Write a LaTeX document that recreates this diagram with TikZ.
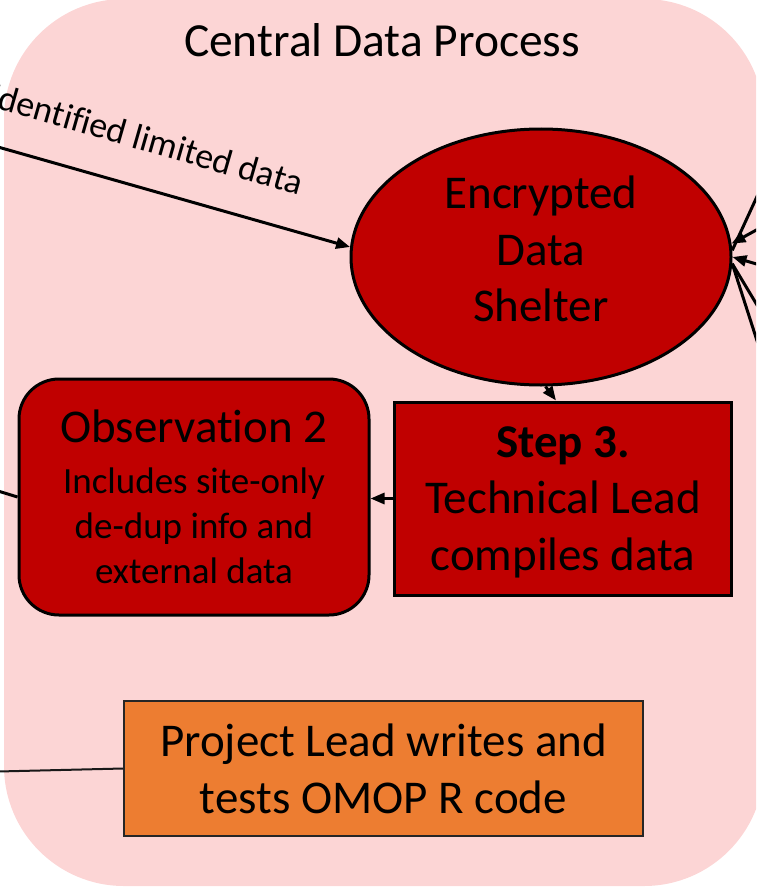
\documentclass[tikz,border=0pt]{standalone}
\usepackage{fontspec}
\setmainfont{Carlito}[Ligatures={NoCommon}]
\usetikzlibrary{shapes.geometric,arrows.meta,calc}
\definecolor{bgpink}{HTML}{FCD5D5}
\definecolor{boxred}{HTML}{C00000}
\definecolor{boxorange}{HTML}{ED7D31}
\newcommand{\nl}{\kern0pt }
\begin{document}
\begin{tikzpicture}[x=1pt,y=-1pt,
  bigfont/.style={font=\fontsize{47}{56.5}\selectfont},
  redell/.style={ellipse,draw=black,line width=3pt,fill=boxred,minimum width=380pt,minimum height=256pt,inner sep=0pt},
  stepbox/.style={rectangle,draw=black,line width=3pt,fill=boxred,minimum width=337pt,minimum height=193pt,inner sep=0pt},
  obsbox/.style={rectangle,rounded corners=40pt,draw=black,line width=3pt,fill=boxred,minimum width=350pt,minimum height=236pt,inner sep=0pt,align=center,font=\fontsize{37}{45}\selectfont},
  orangebox/.style={rectangle,draw=black!85,line width=2pt,fill=boxorange,minimum width=519pt,minimum height=135pt,inner sep=0pt,align=center,font=\fontsize{47}{57}\selectfont},
  arr/.style={draw=black,line width=3pt,-{Triangle[length=14pt,width=11pt]}},
  plainline/.style={draw=black,line width=3pt},
  thinline/.style={draw=black!90,line width=2pt},
  lbl/.style={font=\fontsize{36}{40}\selectfont,inner sep=0pt}
]
\useasboundingbox (0,0) rectangle (756,888);
\clip (0,0) rectangle (756,888);
\fill[bgpink, rounded corners=120pt] (4,-1) rectangle (764,886);

\node (title) at (382,40) [font=\fontsize{47.5}{56}\selectfont,inner sep=0pt] {Central Data Process};

\node[redell] (ell) at (541,257) {};
\node[bigfont,align=center,inner sep=0pt] (ellt) at (541,249) {Encrypted\\Data\\Shelter};
\node[stepbox] (step) at (563,498.5) {};
\node[bigfont,align=center,inner sep=0pt] (stept) at (563,502) {\textbf{Step 3.}\\Technical Lead\\compiles data};
\node[obsbox] (obs) at (194,497) {{\fontsize{47}{47}\selectfont Observat\nl ion 2}\\[6pt]Includes site-only\\de-dup info and\\external data};
\node[orangebox] (proj) at (383.5,768.5) {Project Lead writes and\\tests OMOP R code};

% incoming from left
\coordinate (lt) at (-2,147);
\draw[arr] (lt) -- (ell.177);
\node[lbl,rotate=-16] (lab) at (147,139) {ident\nl if\nl ied limited data};

% right side lines
\coordinate (r1) at (760,190);
\coordinate (r2) at (760,228);
\coordinate (r3) at (760,265);
\coordinate (r4) at (760,310);
\coordinate (r5) at (760,350);
\draw[plainline] (r1) -- (ell.2);
\draw[arr] (r2) -- (ell.4);
\draw[arr] (r3) -- (ell.0);
\draw[plainline] (r4) -- (ell.-2);
\draw[plainline] (r5) -- (ell.-2);

% ellipse to step
\draw[arr] (ell.-88) -- ($(step.north)+(-7,0)$);
% step to obs
\draw[arr] (step.west) -- (step.west -| obs.east);
% obs out to left
\coordinate (ol) at (-2,491);
\draw[plainline] (obs.west) -- (ol);
% project lead out to left
\coordinate (pl) at (-2,771.5);
\draw[thinline] (proj.west) -- (pl);
\end{tikzpicture}
\end{document}
